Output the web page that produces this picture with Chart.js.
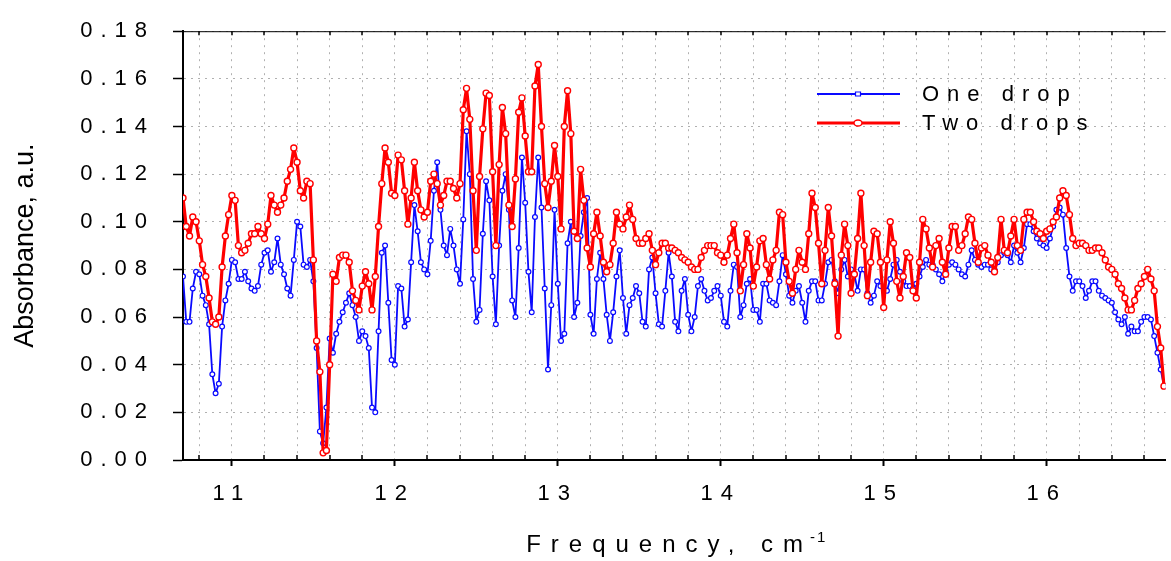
<!DOCTYPE html>
<html>
<head>
<meta charset="utf-8">
<title>Absorbance spectra</title>
<script src="https://cdn.jsdelivr.net/npm/chart.js@4.4.1/dist/chart.umd.min.js"></script>
<style>
  html, body { margin: 0; padding: 0; background: #fff; }
  #wrap { width: 1171px; height: 561px; }
</style>
</head>
<body>
<div id="wrap"><canvas id="chart" width="1171" height="561"></canvas></div>
<script>
// Frequency grid of the measurement (cm^-1)
const FREQ_START = 10.70
const FREQ_STEP = 0.02

const seriesNames = ['One drop', 'Two drops']
const labelledFreqs = [11, 12, 13, 14, 15, 16]

const oneDrop = [
  0.077, 0.058, 0.058, 0.072, 0.079, 0.078, 0.069, 0.065, 0.057, 0.036,
  0.028, 0.032, 0.056, 0.067, 0.074, 0.084, 0.083, 0.076, 0.076, 0.079,
  0.075, 0.072, 0.071, 0.073, 0.082, 0.087, 0.088, 0.079, 0.083, 0.093,
  0.082, 0.078, 0.072, 0.069, 0.084, 0.100, 0.098, 0.082, 0.081, 0.084,
  0.075, 0.047, 0.012, 0.007, 0.022, 0.051, 0.045, 0.053, 0.058, 0.062,
  0.066, 0.070, 0.065, 0.060, 0.050, 0.054, 0.052, 0.047, 0.022, 0.020,
  0.054, 0.087, 0.090, 0.066, 0.042, 0.040, 0.073, 0.072, 0.056, 0.059,
  0.083, 0.107, 0.096, 0.083, 0.080, 0.078, 0.092, 0.113, 0.125, 0.105,
  0.090, 0.086, 0.097, 0.090, 0.080, 0.074, 0.101, 0.138, 0.120, 0.076,
  0.058, 0.063, 0.095, 0.117, 0.109, 0.077, 0.057, 0.090, 0.113, 0.120,
  0.105, 0.067, 0.060, 0.089, 0.127, 0.108, 0.079, 0.062, 0.102, 0.127,
  0.106, 0.072, 0.038, 0.065, 0.105, 0.074, 0.050, 0.053, 0.091, 0.100,
  0.060, 0.066, 0.094, 0.104, 0.110, 0.061, 0.053, 0.076, 0.087, 0.076,
  0.061, 0.050, 0.062, 0.077, 0.088, 0.068, 0.053, 0.065, 0.068, 0.073,
  0.070, 0.058, 0.056, 0.080, 0.085, 0.070, 0.057, 0.056, 0.071, 0.087,
  0.077, 0.058, 0.054, 0.071, 0.076, 0.061, 0.054, 0.060, 0.073, 0.076,
  0.071, 0.067, 0.068, 0.071, 0.073, 0.069, 0.058, 0.056, 0.071, 0.082,
  0.081, 0.060, 0.065, 0.074, 0.076, 0.063, 0.063, 0.058, 0.074, 0.074,
  0.067, 0.066, 0.065, 0.075, 0.086, 0.078, 0.069, 0.066, 0.071, 0.073,
  0.066, 0.058, 0.071, 0.075, 0.075, 0.067, 0.067, 0.074, 0.083, 0.084,
  0.075, 0.070, 0.080, 0.084, 0.077, 0.080, 0.078, 0.071, 0.080, 0.080,
  0.070, 0.066, 0.069, 0.075, 0.073, 0.072, 0.071, 0.076, 0.082, 0.084,
  0.079, 0.075, 0.073, 0.073, 0.072, 0.074, 0.077, 0.081, 0.084, 0.082,
  0.082, 0.080, 0.078, 0.075, 0.079, 0.082, 0.083, 0.082, 0.080, 0.078,
  0.077, 0.082, 0.088, 0.084, 0.082, 0.081, 0.082, 0.082, 0.080, 0.080,
  0.083, 0.086, 0.087, 0.086, 0.083, 0.090, 0.087, 0.083, 0.089, 0.099,
  0.099, 0.096, 0.093, 0.091, 0.090, 0.089, 0.093, 0.098, 0.105, 0.106,
  0.103, 0.089, 0.077, 0.071, 0.075, 0.075, 0.073, 0.068, 0.071, 0.075,
  0.075, 0.071, 0.069, 0.068, 0.067, 0.066, 0.062, 0.059, 0.057, 0.060,
  0.053, 0.056, 0.054, 0.054, 0.058, 0.060, 0.060, 0.059, 0.052, 0.045,
  0.038, 0.031
]

const twoDrops = [
  0.110, 0.098, 0.094, 0.102, 0.100, 0.092, 0.082, 0.077, 0.068, 0.058,
  0.057, 0.060, 0.081, 0.094, 0.103, 0.111, 0.109, 0.090, 0.087, 0.088,
  0.091, 0.095, 0.095, 0.098, 0.095, 0.093, 0.099, 0.111, 0.107, 0.104,
  0.107, 0.110, 0.117, 0.122, 0.131, 0.125, 0.113, 0.110, 0.117, 0.116,
  0.084, 0.050, 0.037, 0.003, 0.004, 0.040, 0.078, 0.075, 0.085, 0.086,
  0.086, 0.083, 0.071, 0.067, 0.063, 0.073, 0.079, 0.074, 0.063, 0.077,
  0.098, 0.116, 0.131, 0.125, 0.112, 0.111, 0.128, 0.126, 0.113, 0.099,
  0.110, 0.125, 0.113, 0.105, 0.102, 0.104, 0.117, 0.120, 0.116, 0.107,
  0.111, 0.117, 0.117, 0.114, 0.110, 0.116, 0.147, 0.156, 0.143, 0.113,
  0.088, 0.119, 0.139, 0.154, 0.153, 0.121, 0.090, 0.124, 0.148, 0.137,
  0.107, 0.098, 0.118, 0.146, 0.152, 0.136, 0.121, 0.121, 0.157, 0.166,
  0.140, 0.116, 0.106, 0.117, 0.132, 0.119, 0.097, 0.140, 0.155, 0.137,
  0.096, 0.093, 0.122, 0.109, 0.089, 0.081, 0.095, 0.104, 0.094, 0.083,
  0.079, 0.082, 0.091, 0.104, 0.099, 0.097, 0.102, 0.107, 0.101, 0.093,
  0.091, 0.091, 0.093, 0.095, 0.088, 0.082, 0.087, 0.091, 0.091, 0.089,
  0.089, 0.088, 0.087, 0.085, 0.084, 0.083, 0.081, 0.080, 0.080, 0.085,
  0.088, 0.090, 0.090, 0.090, 0.087, 0.086, 0.083, 0.086, 0.093, 0.099,
  0.087, 0.071, 0.082, 0.095, 0.089, 0.073, 0.081, 0.092, 0.093, 0.082,
  0.076, 0.084, 0.088, 0.104, 0.103, 0.083, 0.075, 0.070, 0.080, 0.088,
  0.083, 0.080, 0.095, 0.112, 0.106, 0.091, 0.074, 0.088, 0.106, 0.094,
  0.074, 0.052, 0.086, 0.099, 0.090, 0.070, 0.078, 0.093, 0.112, 0.090,
  0.069, 0.083, 0.096, 0.095, 0.083, 0.064, 0.084, 0.100, 0.091, 0.075,
  0.068, 0.077, 0.087, 0.085, 0.071, 0.068, 0.083, 0.101, 0.097, 0.089,
  0.081, 0.090, 0.093, 0.083, 0.078, 0.089, 0.098, 0.098, 0.088, 0.090,
  0.095, 0.102, 0.101, 0.091, 0.083, 0.089, 0.090, 0.086, 0.083, 0.079,
  0.085, 0.101, 0.088, 0.087, 0.094, 0.101, 0.090, 0.088, 0.101, 0.104,
  0.104, 0.100, 0.096, 0.095, 0.093, 0.096, 0.097, 0.100, 0.102, 0.110,
  0.113, 0.111, 0.103, 0.093, 0.090, 0.091, 0.091, 0.090, 0.088, 0.088,
  0.089, 0.089, 0.087, 0.084, 0.081, 0.080, 0.078, 0.074, 0.072, 0.068,
  0.063, 0.063, 0.067, 0.072, 0.074, 0.077, 0.080, 0.076, 0.071, 0.056,
  0.047, 0.031
]

const frequency = oneDrop.map((_, i) => +(FREQ_START + i * FREQ_STEP).toFixed(2))

const BLUE = '#0a0aff'
const RED = '#ff0000'
const FONT = '"Liberation Sans", Arial, sans-serif'
const GRID = '#b0b0b0'

const isMajor = (v) => labelledFreqs.some((f) => Math.abs(f - v) < 1e-6)

// bottom minor ticks point into the plot, plus a thin top frame with inner ticks
const frameTicks = {
  id: 'frameTicks',
  beforeDatasetsDraw(chart) {
    const { ctx, chartArea: { left, right, top, bottom }, scales: { x } } = chart
    ctx.save()
    ctx.strokeStyle = '#000'
    ctx.lineWidth = 1
    ctx.beginPath()
    ctx.moveTo(left, top + 0.5)
    ctx.lineTo(right, top + 0.5)
    ctx.stroke()
    ctx.lineWidth = 1.5
    ctx.beginPath()
    x.ticks.forEach((t) => {
      const px = Math.round(x.getPixelForValue(t.value))
      ctx.moveTo(px, top)
      ctx.lineTo(px, top + 4)
      if (!isMajor(t.value)) {
        ctx.moveTo(px, bottom)
        ctx.lineTo(px, bottom - 5)
      }
    })
    ctx.stroke()
    ctx.restore()
  }
}

// legend sits inside the plot, upper right
const legendBox = {
  id: 'legendBox',
  afterDraw(chart) {
    const { ctx } = chart
    const rows = [
      { ds: chart.data.datasets[0], y: 94, square: true },
      { ds: chart.data.datasets[1], y: 123, square: false }
    ]
    ctx.save()
    rows.forEach(({ ds, y, square }) => {
      ctx.strokeStyle = ds.borderColor
      ctx.lineWidth = ds.borderWidth
      ctx.beginPath()
      ctx.moveTo(817, y)
      ctx.lineTo(900, y)
      ctx.stroke()
      ctx.fillStyle = '#fff'
      ctx.lineWidth = ds.pointBorderWidth
      ctx.beginPath()
      if (square) ctx.rect(855.5, y - 2, 5, 4)
      else ctx.ellipse(858, y, 4, 3, 0, 0, Math.PI * 2)
      ctx.fill()
      ctx.stroke()
      ctx.fillStyle = '#000'
      ctx.font = '22px ' + FONT
      ctx.letterSpacing = '8px'
      ctx.textBaseline = 'middle'
      ctx.textAlign = 'left'
      ctx.fillText(ds.label, 922, y + 1)
    })
    ctx.restore()
  }
}

const axisTitles = {
  id: 'axisTitles',
  afterDraw(chart) {
    const { ctx, chartArea } = chart
    ctx.save()
    ctx.fillStyle = '#000'
    ctx.letterSpacing = '0px'
    ctx.font = '27px ' + FONT
    ctx.translate(26, (chartArea.top + chartArea.bottom) / 2)
    ctx.rotate(-Math.PI / 2)
    ctx.textAlign = 'center'
    ctx.textBaseline = 'middle'
    ctx.fillText('Absorbance, a.u.', 0, 0)
    ctx.restore()

    ctx.save()
    ctx.fillStyle = '#000'
    ctx.textAlign = 'left'
    ctx.textBaseline = 'alphabetic'
    ctx.font = '24px ' + FONT
    ctx.letterSpacing = '10px'
    const main = 'Frequency, cm'
    const w1 = ctx.measureText(main).width
    ctx.font = '15px ' + FONT
    ctx.letterSpacing = '2px'
    const w2 = ctx.measureText('-1').width
    const x0 = (chartArea.left + chartArea.right) / 2 - (w1 + w2) / 2 + 4
    ctx.fillText('-1', x0 + w1 - 3, 542)
    ctx.font = '24px ' + FONT
    ctx.letterSpacing = '10px'
    ctx.fillText(main, x0, 552)
    ctx.restore()
  }
}

// spaced-out tick lettering
const tickSpacing = {
  id: 'tickSpacing',
  beforeDraw(chart) { chart.ctx.letterSpacing = '8px' }
}

const tickFont = { family: FONT, size: 22 }

new Chart(document.getElementById('chart'), {
  type: 'line',
  data: {
    datasets: [
      {
        label: seriesNames[0],
        data: frequency.map((f, i) => ({ x: f, y: oneDrop[i] })),
        borderColor: BLUE,
        borderWidth: 1.8,
        borderJoinStyle: 'round',
        pointRadius: 2.4,
        pointBorderWidth: 1.2,
        pointBackgroundColor: '#fff',
        pointBorderColor: BLUE,
        order: 2
      },
      {
        label: seriesNames[1],
        data: frequency.map((f, i) => ({ x: f, y: twoDrops[i] })),
        borderColor: RED,
        borderWidth: 3.2,
        borderJoinStyle: 'round',
        pointRadius: 3,
        pointBorderWidth: 1.4,
        pointBackgroundColor: '#fff',
        pointBorderColor: RED,
        order: 1
      }
    ]
  },
  options: {
    responsive: false,
    animation: false,
    events: [],
    devicePixelRatio: 1,
    layout: { padding: { top: 23, right: 0, bottom: 0, left: 0 } },
    plugins: {
      legend: { display: false },
      tooltip: { enabled: false }
    },
    scales: {
      x: {
        type: 'linear',
        min: 10.7,
        max: 16.73,
        afterFit: (scale) => { scale.height = 101 },
        ticks: {
          stepSize: 0.2,
          includeBounds: false,
          autoSkip: false,
          maxRotation: 0,
          padding: 15,
          color: '#000',
          font: tickFont,
          callback: (v) => (isMajor(v) ? String(Math.round(v)) : '')
        },
        grid: {
          color: GRID,
          lineWidth: 1,
          tickLength: 6,
          tickWidth: 2,
          tickColor: (ctx) => (ctx.tick && isMajor(ctx.tick.value) ? '#000' : 'rgba(0,0,0,0)')
        },
        border: { color: '#000', width: 2, dash: [2, 5] }
      },
      y: {
        min: 0,
        max: 0.18,
        afterFit: (scale) => { scale.width = 183 },
        ticks: {
          stepSize: 0.02,
          padding: 18,
          color: '#000',
          font: tickFont,
          callback: (v) => v.toFixed(2)
        },
        grid: {
          color: GRID,
          lineWidth: 1,
          tickLength: 10,
          tickWidth: 1.5,
          tickColor: '#000'
        },
        border: { color: '#000', width: 2, dash: [2, 5] }
      }
    }
  },
  plugins: [tickSpacing, frameTicks, legendBox, axisTitles]
})
</script>
</body>
</html>
